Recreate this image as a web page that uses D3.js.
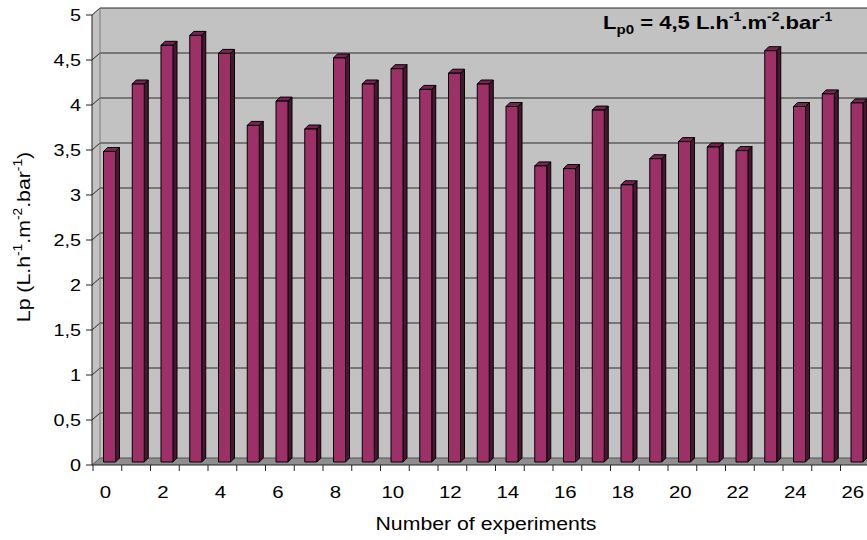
<!DOCTYPE html>
<html>
<head>
<meta charset="utf-8">
<script src="https://cdn.jsdelivr.net/npm/d3@7"></script>
<style>
  html, body { margin: 0; padding: 0; background: #ffffff; }
  svg { display: block; }
  text { font-family: "Liberation Sans", Arial, sans-serif; fill: #000; }
</style>
</head>
<body>
<div id="chart"></div>
<script>
// ---- data ----
const categories = [0,1,2,3,4,5,6,7,8,9,10,11,12,13,14,15,16,17,18,19,20,21,22,23,24,25,26];
const lpValues = [3.45, 4.20, 4.63, 4.74, 4.54, 3.74, 4.01, 3.70, 4.49, 4.20, 4.37, 4.14, 4.32, 4.20,
                  3.95, 3.29, 3.26, 3.91, 3.08, 3.37, 3.56, 3.50, 3.46, 4.57, 3.95, 4.09, 3.99];
const xTickLabels = [0,2,4,6,8,10,12,14,16,18,20,22,24,26];
const yTicks = [0,0.5,1,1.5,2,2.5,3,3.5,4,4.5,5];
const xTitle = "Number of experiments";

(function () {
// ---- layout ----
const W = 867, H = 540;
const mLeft = 92, mBottom = 465, mTop = 15;
const depthX = 8, depthY = 7;          // wall depth
const barDX = 4, barDY = 4;            // bar depth
const barLift = 3;                     // bar sits slightly behind front

const svg = d3.select("#chart").append("svg").attr("width", W).attr("height", H);

const x = d3.scaleBand().domain(categories).range([mLeft + 1, mLeft + 1 + 27 * 28.75]).paddingInner(0).paddingOuter(0);
const y = d3.scaleLinear().domain([0, 5]).range([mBottom, mTop]);

const fmt = v => String(v).replace(".", ",");
const pts = arr => arr.map(p => p.join(",")).join(" ");

// side wall
svg.append("polygon")
  .attr("points", pts([[mLeft, y(5)], [mLeft + depthX, y(5) - depthY], [mLeft + depthX, y(0) - depthY], [mLeft, y(0)]]))
  .attr("fill", "#c2c2c2");
// back wall
svg.append("rect")
  .attr("x", mLeft + depthX).attr("y", y(5) - depthY)
  .attr("width", W - mLeft - depthX + 5).attr("height", y(0) - y(5))
  .attr("fill", "#c2c2c2");
// floor
svg.append("polygon")
  .attr("points", pts([[mLeft, y(0)], [mLeft + depthX, y(0) - depthY], [W + 5, y(0) - depthY], [W + 5, y(0)]]))
  .attr("fill", "#8e8e8e");

// gridlines
const grid = svg.append("g").attr("fill", "none").attr("stroke-width", 1);
yTicks.forEach(v => {
  grid.append("path")
    .attr("d", `M${mLeft},${y(v)}L${mLeft + depthX},${y(v) - depthY}L${W + 5},${y(v) - depthY}`)
    .attr("stroke", v === 0 ? "#555" : "#2a2a2a");
});
grid.append("line")
  .attr("x1", mLeft + depthX).attr("x2", mLeft + depthX)
  .attr("y1", y(5) - depthY).attr("y2", y(0) - depthY)
  .attr("stroke", "#7a7a7a");

// bars
const bw = 12, bOff = 10.5;
const bars = svg.append("g").attr("stroke", "#000").attr("stroke-width", 1).attr("stroke-linejoin", "round");
categories.forEach((c, i) => {
  const v = lpValues[i];
  const x0 = x(c) + bOff, x1 = x0 + bw;
  const yt = y(v) - barLift, yb = y(0) - barLift;
  const g = bars.append("g");
  g.append("polygon")
    .attr("points", pts([[x1, yt], [x1 + barDX, yt - barDY], [x1 + barDX, yb - barDY], [x1, yb]]))
    .attr("fill", "#4a1530");
  g.append("polygon")
    .attr("points", pts([[x0, yt], [x0 + barDX, yt - barDY], [x1 + barDX, yt - barDY], [x1, yt]]))
    .attr("fill", "#7a2352");
  g.append("rect")
    .attr("x", x0).attr("y", yt).attr("width", bw).attr("height", yb - yt)
    .attr("fill", "#9e3068");
});

// y axis
const yAxis = svg.append("g");
yAxis.append("line").attr("x1", mLeft).attr("x2", mLeft).attr("y1", y(5)).attr("y2", y(0)).attr("stroke", "#222");
yTicks.forEach(v => {
  yAxis.append("line").attr("x1", mLeft - 6).attr("x2", mLeft).attr("y1", y(v)).attr("y2", y(v)).attr("stroke", "#222");
  yAxis.append("text")
    .attr("transform", `translate(${mLeft - 11},${y(v) + 6}) scale(1.2,1)`)
    .attr("text-anchor", "end")
    .attr("font-size", 16.5)
    .text(fmt(v));
});

// x axis
const xAxis = svg.append("g");
xAxis.append("line").attr("x1", mLeft).attr("x2", W + 5).attr("y1", y(0)).attr("y2", y(0)).attr("stroke", "#222");
categories.forEach(c => {
  xAxis.append("line").attr("x1", x(c)).attr("x2", x(c)).attr("y1", y(0)).attr("y2", y(0) + 6).attr("stroke", "#222");
});
xTickLabels.forEach(c => {
  xAxis.append("text")
    .attr("transform", `translate(${x(c) + x.bandwidth() / 2 - 2},${498}) scale(1.2,1)`)
    .attr("text-anchor", "middle")
    .attr("font-size", 17)
    .text(c);
});

// axis titles
svg.append("text")
  .attr("transform", `translate(486,530) scale(1.15,1)`)
  .attr("text-anchor", "middle")
  .attr("font-size", 18.5)
  .text(xTitle);

const ytl = svg.append("text")
  .attr("transform", `translate(30,237) rotate(-90) scale(1.15,1)`)
  .attr("text-anchor", "middle")
  .attr("font-size", 18.5);
ytl.append("tspan").text("Lp (L.h");
ytl.append("tspan").attr("dy", -8).attr("font-size", 12).text("-1");
ytl.append("tspan").attr("dy", 8).text(".m");
ytl.append("tspan").attr("dy", -8).attr("font-size", 12).text("-2");
ytl.append("tspan").attr("dy", 8).text(".bar");
ytl.append("tspan").attr("dy", -8).attr("font-size", 12).text("-1");
ytl.append("tspan").attr("dy", 8).text(")");

// annotation
const ann = svg.append("text")
  .attr("transform", `translate(603,29) scale(1.16,1)`)
  .attr("font-size", 19)
  .attr("font-weight", "bold");
ann.append("tspan").text("L");
ann.append("tspan").attr("dy", 5).attr("font-size", 13).text("p0");
ann.append("tspan").attr("dy", -5).text(" = 4,5 L.h");
ann.append("tspan").attr("dy", -8).attr("font-size", 12).text("-1");
ann.append("tspan").attr("dy", 8).text(".m");
ann.append("tspan").attr("dy", -8).attr("font-size", 12).text("-2");
ann.append("tspan").attr("dy", 8).text(".bar");
ann.append("tspan").attr("dy", -8).attr("font-size", 12).text("-1");
})();
</script>
</body>
</html>
